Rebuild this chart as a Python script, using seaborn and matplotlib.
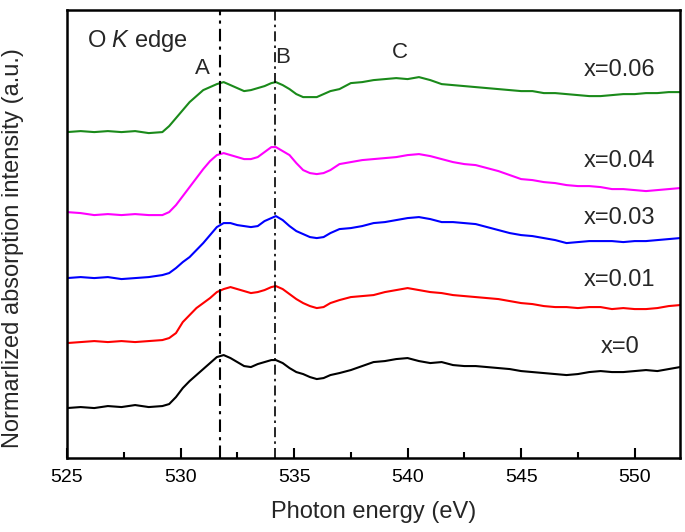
import pandas as pd
import matplotlib.pyplot as plt
import seaborn as sns
import numpy as np
from matplotlib.ticker import MultipleLocator

# Energia (eV) comun a todas las curvas
energy = [525.0, 525.6, 526.2, 526.8, 527.4, 528.0, 528.6, 529.2, 529.5, 529.8,
          530.1, 530.4, 530.7, 531.0, 531.3, 531.6, 531.9, 532.2, 532.5, 532.8,
          533.1, 533.4, 533.7, 534.0, 534.2, 534.5, 534.8, 535.1, 535.4, 535.7,
          536.0, 536.3, 536.6, 537.0, 537.5, 538.0, 538.5, 539.0, 539.5, 540.0,
          540.5, 541.0, 541.5, 542.0, 542.5, 543.0, 543.5, 544.0, 544.5, 545.0,
          545.5, 546.0, 546.5, 547.0, 547.5, 548.0, 548.5, 549.0, 549.5, 550.0,
          550.5, 551.0, 551.5, 552.0]

# Intensidades (desplazadas verticalmente, u.a.)
x_0 = [0.50, 0.51, 0.50, 0.52, 0.51, 0.53, 0.51, 0.52, 0.54, 0.61,
       0.70, 0.77, 0.83, 0.89, 0.95, 1.01, 1.03, 1.00, 0.96, 0.92,
       0.91, 0.94, 0.96, 0.98, 0.98, 0.95, 0.90, 0.86, 0.84, 0.81,
       0.79, 0.80, 0.83, 0.85, 0.88, 0.92, 0.96, 0.97, 0.99, 1.00,
       0.97, 0.95, 0.96, 0.93, 0.92, 0.92, 0.91, 0.90, 0.89, 0.87,
       0.86, 0.85, 0.84, 0.83, 0.84, 0.86, 0.87, 0.86, 0.86, 0.87,
       0.88, 0.87, 0.89, 0.91]
x_001 = [1.15, 1.16, 1.17, 1.16, 1.17, 1.16, 1.17, 1.18, 1.20, 1.25,
         1.36, 1.43, 1.50, 1.55, 1.60, 1.66, 1.69, 1.71, 1.69, 1.67,
         1.65, 1.66, 1.68, 1.71, 1.72, 1.69, 1.64, 1.59, 1.55, 1.52,
         1.50, 1.51, 1.55, 1.58, 1.61, 1.62, 1.63, 1.66, 1.68, 1.70,
         1.68, 1.66, 1.65, 1.63, 1.62, 1.61, 1.60, 1.59, 1.57, 1.55,
         1.54, 1.52, 1.51, 1.51, 1.50, 1.51, 1.51, 1.49, 1.50, 1.49,
         1.49, 1.50, 1.52, 1.53]
x_003 = [1.80, 1.81, 1.80, 1.81, 1.79, 1.80, 1.81, 1.83, 1.85, 1.90,
         1.96, 2.01, 2.08, 2.15, 2.23, 2.31, 2.35, 2.35, 2.33, 2.32,
         2.31, 2.32, 2.37, 2.40, 2.42, 2.38, 2.32, 2.27, 2.24, 2.21,
         2.20, 2.21, 2.25, 2.29, 2.30, 2.32, 2.35, 2.36, 2.38, 2.40,
         2.41, 2.39, 2.36, 2.36, 2.35, 2.34, 2.31, 2.28, 2.25, 2.23,
         2.22, 2.20, 2.18, 2.15, 2.16, 2.17, 2.17, 2.17, 2.16, 2.17,
         2.17, 2.18, 2.19, 2.20]
x_004 = [2.46, 2.45, 2.43, 2.44, 2.43, 2.44, 2.43, 2.43, 2.46, 2.53,
         2.62, 2.71, 2.80, 2.89, 2.97, 3.03, 3.05, 3.03, 3.01, 2.99,
         2.99, 3.01, 3.06, 3.11, 3.11, 3.07, 3.03, 2.95, 2.88, 2.85,
         2.84, 2.85, 2.88, 2.94, 2.96, 2.98, 2.99, 3.00, 3.01, 3.03,
         3.04, 3.02, 2.99, 2.96, 2.94, 2.93, 2.90, 2.87, 2.83, 2.79,
         2.78, 2.76, 2.75, 2.73, 2.72, 2.72, 2.71, 2.69, 2.69, 2.68,
         2.67, 2.68, 2.69, 2.70]
x_006 = [3.26, 3.27, 3.26, 3.27, 3.26, 3.27, 3.25, 3.26, 3.32, 3.40,
         3.48, 3.56, 3.62, 3.68, 3.71, 3.74, 3.76, 3.73, 3.70, 3.67,
         3.68, 3.70, 3.72, 3.75, 3.76, 3.73, 3.69, 3.64, 3.61, 3.61,
         3.61, 3.64, 3.67, 3.69, 3.75, 3.76, 3.78, 3.79, 3.80, 3.79,
         3.81, 3.78, 3.74, 3.73, 3.72, 3.71, 3.70, 3.69, 3.68, 3.67,
         3.67, 3.65, 3.65, 3.64, 3.63, 3.62, 3.62, 3.63, 3.64, 3.64,
         3.65, 3.65, 3.66, 3.66]

labels = ["x=0", "x=0.01", "x=0.03", "x=0.04", "x=0.06"]
colors = ["black", "#ff0000", "#0000ff", "#ff00ff", "#1a8a1a"]
label_y = [1.11, 1.78, 2.40, 2.97, 3.88]
peaks = ["A", "B", "C"]
peak_x = [530.95, 534.48, 539.68]
peak_y = [3.90, 4.01, 4.06]
lines_x = [531.75, 534.15]

series = [x_0, x_001, x_003, x_004, x_006]
df = pd.concat([pd.DataFrame({"E": energy, "I": s, "muestra": l}) for s, l in zip(series, labels)])

sns.set_theme(style="white")
plt.rcParams['font.family'] = ['Liberation Sans', 'DejaVu Sans']
plt.rcParams['mathtext.fontset'] = 'custom'
plt.rcParams['mathtext.rm'] = 'Liberation Sans'
plt.rcParams['mathtext.it'] = 'Liberation Sans:italic'

fig = plt.figure(figsize=(6.85, 5.32), dpi=100)
ax = fig.add_axes([0.0978, 0.139, 0.895, 0.842])

sns.lineplot(data=df, x="E", y="I", hue="muestra", palette=dict(zip(labels, colors)),
             linewidth=1.5, legend=False, ax=ax, sort=False)

ax.axvline(lines_x[0], color="black", lw=1.5, ls=(0, (6, 2.5, 1.5, 2.5)))
ax.axvline(lines_x[1], color="black", lw=1.2, ls=(0, (6, 2.5, 1.5, 2.5)))

for t, yy in zip(labels, label_y):
    ax.text(549.34, yy, t, fontsize=17, ha="center", va="center")
for t, xx, yy in zip(peaks, peak_x, peak_y):
    ax.text(xx, yy, t, fontsize=16, ha="center", va="center")
ax.text(525.88, 4.17, r"O $\mathit{K}$ edge", fontsize=17, ha="left", va="center")

ax.set_xlim(525, 552)
ax.set_ylim(0, 4.48)
ax.set_yticks([])
ax.xaxis.set_major_locator(MultipleLocator(5))
ax.xaxis.set_minor_locator(MultipleLocator(2.5))
ax.tick_params(axis="x", which="both", direction="in", bottom=True, top=False,
               labelsize=14, pad=8, colors="black")
ax.tick_params(axis="x", which="major", length=7, width=1.5)
ax.tick_params(axis="x", which="minor", length=4.5, width=1.5)
for sp in ax.spines.values():
    sp.set_linewidth(1.8)
    sp.set_color("black")

ax.set_xlabel("Photon energy (eV)", fontsize=17)
ax.set_ylabel("Normarlized absorption intensity (a.u.)", fontsize=17)
ax.xaxis.set_label_coords(0.5, -0.095)
ax.yaxis.set_label_coords(-0.07, 0.469)

fig.savefig("out.png", dpi=100)
